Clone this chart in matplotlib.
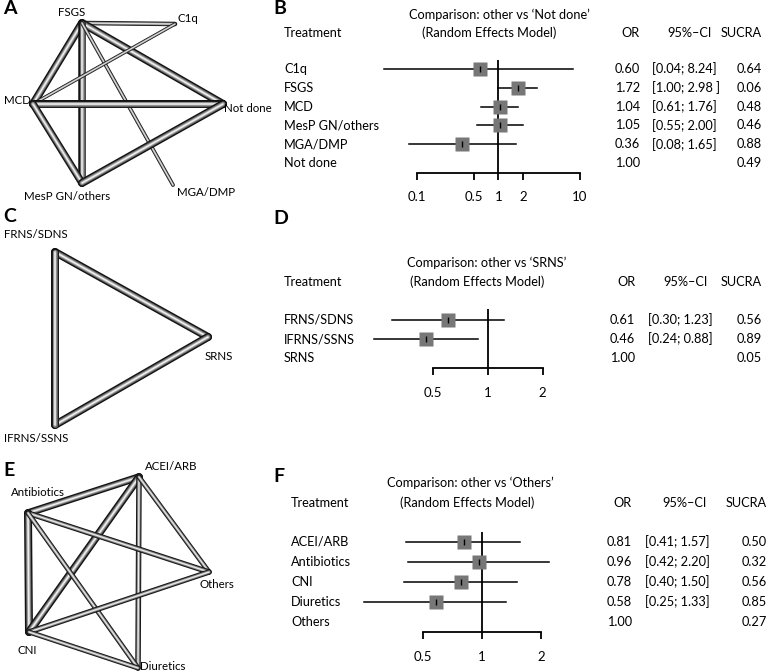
import matplotlib
matplotlib.use('Agg')
import matplotlib.pyplot as plt
from matplotlib.transforms import blended_transform_factory

plt.rcParams['font.family'] = ['Lato', 'DejaVu Sans']

# ---- network A ----
netA_names = ['FSGS', 'C1q', 'MCD', 'Not done', 'MesP GN/others', 'MGA/DMP']
netA_x = [82, 175, 33, 223, 82, 173]
netA_y = [23, 24, 104, 104, 183, 185]
netA_edges = [(0, 1), (0, 2), (0, 3), (0, 4), (0, 5), (2, 1), (2, 3), (2, 4), (4, 3)]
netA_width = [4.5, 8, 8, 7.5, 3.8, 3.5, 8, 7.5, 8]

# ---- network C ----
netC_names = ['FRNS/SDNS', 'SRNS', 'IFRNS/SSNS']
netC_x = [55, 208, 55]
netC_y = [252, 337, 425]
netC_edges = [(0, 1), (1, 2), (0, 2)]
netC_width = [8, 8, 8]

# ---- network E ----
netE_names = ['ACEI/ARB', 'Antibiotics', 'Others', 'CNI', 'Diuretics']
netE_x = [139, 28, 209, 29, 138]
netE_y = [477, 513, 572, 632, 668]
netE_edges = [(1, 0), (1, 3), (0, 3), (0, 4), (0, 2), (1, 2), (1, 4), (3, 2), (3, 4)]
netE_width = [7.5, 8, 8, 5.5, 5, 5.5, 5, 5.5, 5]

# ---- forest B ----
trtB = ['C1q', 'FSGS', 'MCD', 'MesP GN/others', 'MGA/DMP', 'Not done']
orB = [0.60, 1.72, 1.04, 1.05, 0.36, 1.00]
loB = [0.04, 1.00, 0.61, 0.55, 0.08, None]
hiB = [8.24, 2.98, 1.76, 2.00, 1.65, None]
ciB = ['[0.04; 8.24]', '[1.00; 2.98 ]', '[0.61; 1.76]', '[0.55; 2.00]', '[0.08; 1.65]', '']
sucraB = [0.64, 0.06, 0.48, 0.46, 0.88, 0.49]
ticksB = [0.1, 0.5, 1, 2, 10]

# ---- forest D ----
trtD = ['FRNS/SDNS', 'IFRNS/SSNS', 'SRNS']
orD = [0.61, 0.46, 1.00]
loD = [0.30, 0.24, None]
hiD = [1.23, 0.88, None]
ciD = ['[0.30; 1.23]', '[0.24; 0.88]', '']
sucraD = [0.56, 0.89, 0.05]
ticksD = [0.5, 1, 2]

# ---- forest F ----
trtF = ['ACEI/ARB', 'Antibiotics', 'CNI', 'Diuretics', 'Others']
orF = [0.81, 0.96, 0.78, 0.58, 1.00]
loF = [0.41, 0.42, 0.40, 0.25, None]
hiF = [1.57, 2.20, 1.50, 1.33, None]
ciF = ['[0.41; 1.57]', '[0.42; 2.20]', '[0.40; 1.50]', '[0.25; 1.33]', '']
sucraF = [0.50, 0.32, 0.56, 0.85, 0.27]
ticksF = [0.5, 1, 2]

W, H = 770, 672
fig = plt.figure(figsize=(7.7, 6.72), dpi=100)
base = fig.add_axes([0, 0, 1, 1])
base.set_xlim(0, W)
base.set_ylim(H, 0)
base.axis('off')

# tube look: dark rim, grey body, light core
layers = [(1.0, '#121212'), (0.66, '#5e5e5e'), (0.44, '#a0a0a0'), (0.2, '#eeeeee')]


def network(xs, ys, edges, widths):
    for (a, b), w in zip(edges, widths):
        for frac, col in layers:
            base.plot([xs[a], xs[b]], [ys[a], ys[b]], color=col,
                      lw=w * frac * 0.72, solid_capstyle='round')


network(netA_x, netA_y, netA_edges, netA_width)
network(netC_x, netC_y, netC_edges, netC_width)
network(netE_x, netE_y, netE_edges, netE_width)

nfs = 8.3
# node labels (x, y, ha)
lab_pos = {
    'FSGS': (72, 13, 'center'), 'C1q': (177, 19, 'left'), 'MCD': (31, 100, 'right'),
    'Not done': (224, 108, 'left'), 'MesP GN/others': (67, 197, 'center'),
    'MGA/DMP': (177, 192, 'left'),
    'FRNS/SDNS': (36, 235, 'center'), 'SRNS': (205, 357, 'left'),
    'IFRNS/SSNS': (36, 438, 'center'),
    'ACEI/ARB': (145, 466, 'left'), 'Antibiotics': (38, 493, 'center'),
    'Others': (200, 585, 'left'), 'CNI': (27, 650, 'center'), 'Diuretics': (140, 666, 'left'),
}
for nm, (x, y, ha) in lab_pos.items():
    base.text(x, y, nm, fontsize=nfs, ha=ha, va='center')

for letter, x, y in [('A', 3, 9), ('B', 273, 8), ('C', 3, 216), ('D', 273, 218),
                     ('E', 3, 471), ('F', 273, 477)]:
    base.text(x, y, letter, fontsize=14, fontweight='bold', ha='left', va='center')

fs = 9.2


def forest(trt, ors, lo, hi, ci, sucra, ticks, x0, x1, top, axis_y, y0, dy,
           ref, title_x, sub_x, title_y, head_y, trt_x, or_x, ci_l, ci_x, su_x, lab_y):
    ax = fig.add_axes([x0 / W, 1 - axis_y / H, (x1 - x0) / W, (axis_y - top) / H])
    ax.patch.set_alpha(0)
    ax.set_xscale('log')
    ax.set_xlim(ticks[0], ticks[-1])
    ax.set_ylim((axis_y - y0) / dy, (top - y0) / dy)
    for s in ['top', 'left', 'right']:
        ax.spines[s].set_visible(False)
    ax.spines['bottom'].set_linewidth(1.3)
    ax.set_yticks([])
    ax.set_xticks(ticks)
    ax.set_xticklabels([('%g' % t) for t in ticks])
    ax.minorticks_off()
    ax.tick_params(axis='x', direction='out', length=5, width=1.3, labelsize=fs + 0.3,
                   pad=(lab_y - axis_y) * 0.72 - 9)
    ax.axvline(1, color='black', lw=1.3)
    for i in range(len(trt)):
        if lo[i] is not None:
            ax.plot([lo[i], hi[i]], [i, i], color='black', lw=1.1, clip_on=False)
            ax.plot(ors[i], i, marker='s', ms=10.5, color='#777777', mec='none', clip_on=False)
            ax.plot(ors[i], i, marker='|', ms=5, mew=1, color='black', clip_on=False)
    tr = blended_transform_factory(base.transData, ax.transData)
    for i in range(len(trt)):
        ax.text(trt_x, i, trt[i], transform=tr, fontsize=fs, ha='left', va='center')
        ax.text(or_x, i, '%.2f' % ors[i], transform=tr, fontsize=fs, ha='right', va='center')
        ax.text(ci_l, i, ci[i], transform=tr, fontsize=fs, ha='left', va='center')
        ax.text(su_x, i, '%.2f' % sucra[i], transform=tr, fontsize=fs, ha='right', va='center')
    base.text(title_x, title_y, "Comparison: other vs \u2018%s\u2019" % ref, fontsize=fs,
              ha='center', va='center')
    base.text(sub_x, head_y, '(Random Effects Model)', fontsize=fs, ha='center', va='center')
    base.text(trt_x, head_y, 'Treatment', fontsize=fs, ha='left', va='center')
    base.text(or_x, head_y, 'OR', fontsize=fs, ha='right', va='center')
    base.text(ci_x, head_y, '95%\u2013CI', fontsize=fs, ha='right', va='center')
    base.text(su_x, head_y, 'SUCRA', fontsize=fs, ha='right', va='center')


forest(trtB, orB, loB, hiB, ciB, sucraB, ticksB, 416.7, 580, 60, 173.3, 69, 18.8,
       'Not done', 499, 489, 15, 33, 284, 640, 652, 712, 762, 196.7)
forest(trtD, orD, loD, hiD, ciD, sucraD, ticksD, 432.7, 542.7, 309, 368, 320, 19,
       'SRNS', 487, 477, 263, 282, 284, 635, 648, 708, 762, 392.5)
forest(trtF, orF, loF, hiF, ciF, sucraF, ticksF, 423, 541, 532, 631.7, 542, 20,
       'Others', 470, 467, 483, 503, 291, 632, 645, 707, 767, 656.7)

fig.savefig('out.png', dpi=100)
